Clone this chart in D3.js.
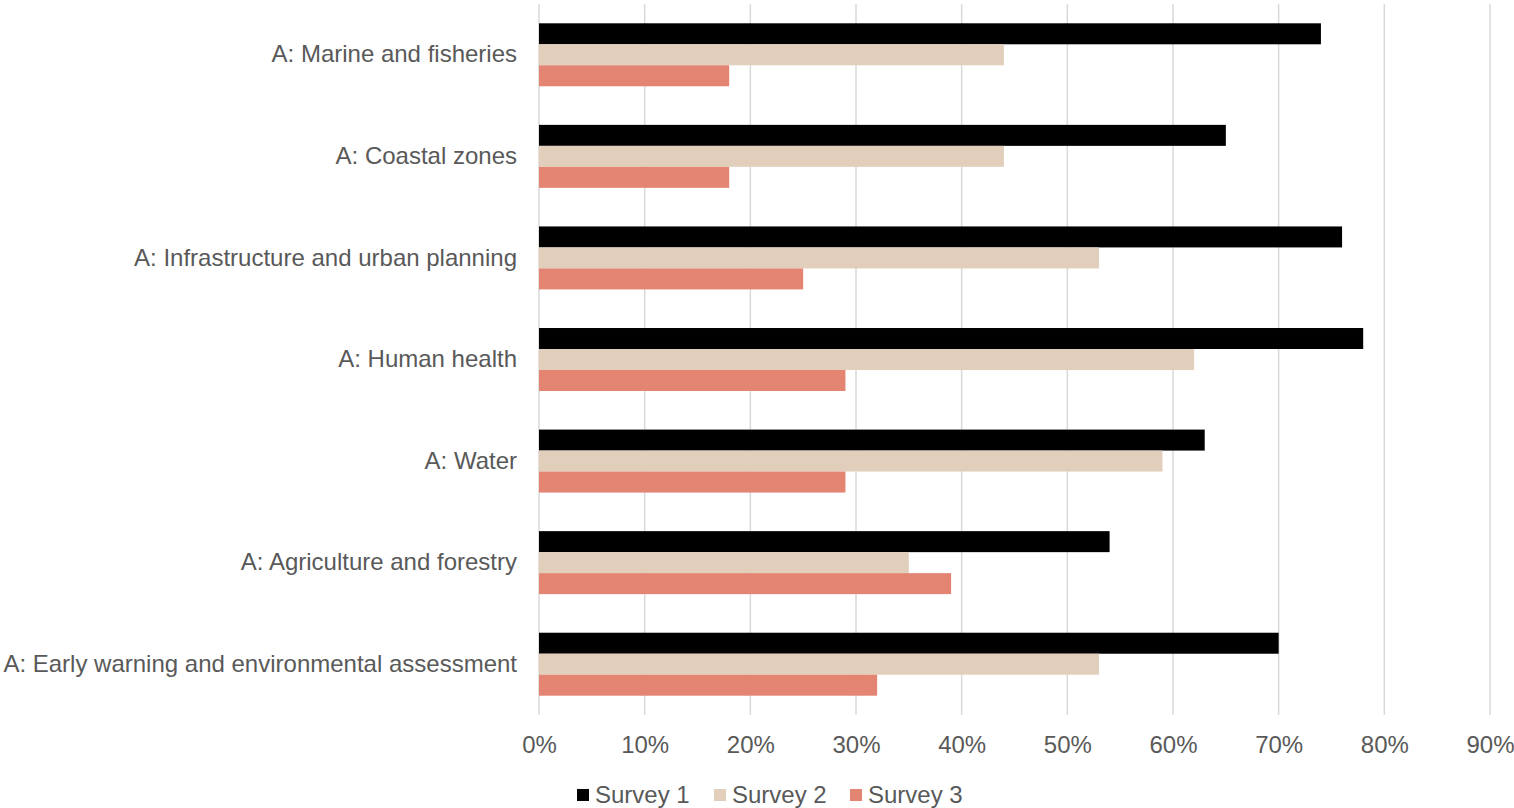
<!DOCTYPE html>
<html>
<head>
<meta charset="utf-8">
<script src="https://cdn.jsdelivr.net/npm/d3@7"></script>
<style>
  body { margin: 0; background: #fff; }
  #graf { width: 1514px; height: 808px; }
  text { font-family: 'Liberation Sans', Arial, sans-serif; fill: #595959; }
</style>
</head>
<body>
<div id="graf"></div>
<script>
// -- Datos
categorias = ['A: Marine and fisheries', 'A: Coastal zones', 'A: Infrastructure and urban planning',
              'A: Human health', 'A: Water', 'A: Agriculture and forestry',
              'A: Early warning and environmental assessment']
series = ['Survey 1', 'Survey 2', 'Survey 3']
survey1 = [0.74, 0.65, 0.76, 0.78, 0.63, 0.54, 0.70]
survey2 = [0.44, 0.44, 0.53, 0.62, 0.59, 0.35, 0.53]
survey3 = [0.18, 0.18, 0.25, 0.29, 0.29, 0.39, 0.32]
ticks = [0, 0.1, 0.2, 0.3, 0.4, 0.5, 0.6, 0.7, 0.8, 0.9]
colores = ['#000000', '#e2cfbb', '#e48472']

// -- Configuración del canvas
ancho_total = 1514
alto_total = 808
margins = {top: 4, left: 539, right: 24, bottom: 93}
ancho = ancho_total - margins.left - margins.right
alto = alto_total - margins.top - margins.bottom

svg = d3.select('#graf').append('svg')
        .attr('width', ancho_total)
        .attr('height', alto_total)

g = svg.append('g')
       .attr('transform', `translate(${margins.left}, ${margins.top})`)

// -- Escaladores
x = d3.scaleLinear().domain([0, 0.9]).range([0, ancho])
y = d3.scaleBand().domain(categorias).range([0, alto]).paddingInner(0.38).paddingOuter(0.19)
ySub = d3.scaleBand().domain(series).range([0, y.bandwidth()])
color = d3.scaleOrdinal().domain(series).range(colores)

// -- Grid
g.append('g')
  .selectAll('line')
  .data(ticks)
  .join('line')
    .attr('x1', d => x(d)).attr('x2', d => x(d))
    .attr('y1', 0).attr('y2', alto)
    .attr('stroke', '#d9d9d9')
    .attr('stroke-width', 1.5)

// -- Eje x
xAxis = d3.axisBottom(x)
          .tickValues(ticks)
          .tickFormat(d3.format('.0%'))
          .tickSize(0)
          .tickPadding(21)
ejeX = g.append('g')
        .attr('transform', `translate(0, ${alto})`)
        .call(xAxis)
ejeX.select('.domain').remove()
ejeX.selectAll('text').attr('font-size', '24px').attr('font-family', null).attr('fill', null)

// -- Eje y
yAxis = d3.axisLeft(y).tickSize(0).tickPadding(22)
ejeY = g.append('g').call(yAxis)
ejeY.select('.domain').remove()
ejeY.selectAll('text').attr('font-size', '24px').attr('font-family', null).attr('fill', null)

// -- Barras
datos = categorias.map((c, i) => ({cat: c, valores: [survey1[i], survey2[i], survey3[i]]}))

grupos = g.selectAll('.grupo')
          .data(datos)
          .join('g')
            .attr('class', 'grupo')
            .attr('transform', d => `translate(0, ${y(d.cat)})`)

grupos.selectAll('rect')
  .data(d => d.valores.map((v, j) => ({serie: series[j], valor: v})))
  .join('rect')
    .attr('x', x(0))
    .attr('y', d => ySub(d.serie))
    .attr('width', d => x(d.valor) - x(0))
    .attr('height', ySub.bandwidth())
    .attr('fill', d => color(d.serie))

// -- Leyenda
leyendaX = [577, 714, 850]
leyenda = svg.append('g')
             .selectAll('g')
             .data(series)
             .join('g')
               .attr('transform', (d, i) => `translate(${leyendaX[i]}, 795)`)
leyenda.append('rect')
  .attr('x', 0).attr('y', -6)
  .attr('width', 12).attr('height', 12)
  .attr('fill', d => color(d))
leyenda.append('text')
  .attr('x', 18)
  .attr('dy', '0.35em')
  .attr('font-size', '24px')
  .text(d => d)
</script>
</body>
</html>
